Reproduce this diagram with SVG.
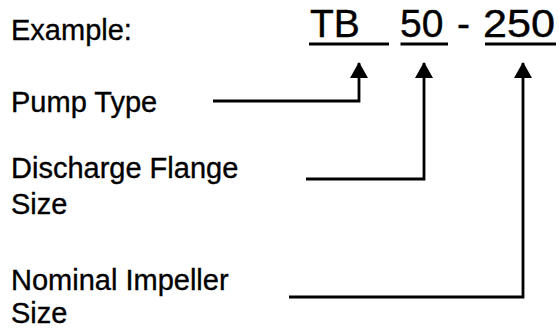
<svg xmlns="http://www.w3.org/2000/svg" width="559" height="329" viewBox="0 0 559 329">
<defs>
<style>
.lbl{font-family:"Liberation Sans",Arial,sans-serif;font-size:29px;fill:#000;stroke:#000;stroke-width:0.35}
.code{font-family:"Liberation Sans",Arial,sans-serif;font-size:39px;fill:#000;stroke:#000;stroke-width:0.4}
.ln{stroke:#000;stroke-width:2.8;fill:none}
</style>
<marker id="ah" markerUnits="userSpaceOnUse" markerWidth="20" markerHeight="18" viewBox="0 0 16 18" refX="15" refY="9" orient="auto">
<path d="M0,0 L16,9 L0,18 Z" fill="#000"/>
</marker>
</defs>
<rect width="559" height="329" fill="#fff"/>
<g id="example"><text class="lbl" x="11" y="39.5">Example:</text></g>
<g id="code">
<text class="code" x="310" y="37.3">TB</text>
<text class="code" x="400" y="37.3">50</text>
<text class="code" x="457" y="37.3">-</text>
<text class="code" x="483" y="37.3" textLength="72" lengthAdjust="spacingAndGlyphs">250</text>
<line class="ln" x1="309" y1="44" x2="389" y2="44"/>
<line class="ln" x1="400.5" y1="44" x2="448" y2="44"/>
<line class="ln" x1="485" y1="44" x2="556" y2="44"/>
</g>
<g id="pump-type"><text class="lbl" x="11" y="111.5">Pump Type</text></g>
<g id="discharge"><text class="lbl" x="11" y="177.5">Discharge Flange</text><text class="lbl" x="11" y="214">Size</text></g>
<g id="impeller"><text class="lbl" x="11" y="290">Nominal Impeller</text><text class="lbl" x="11" y="323">Size</text></g>
<g id="connectors">
<polyline class="ln" points="213,101 359,101 359,63" marker-end="url(#ah)"/>
<polyline class="ln" points="306,179 424,179 424,63" marker-end="url(#ah)"/>
<polyline class="ln" points="289,297 523,297 523,63" marker-end="url(#ah)"/>
</g>
</svg>
